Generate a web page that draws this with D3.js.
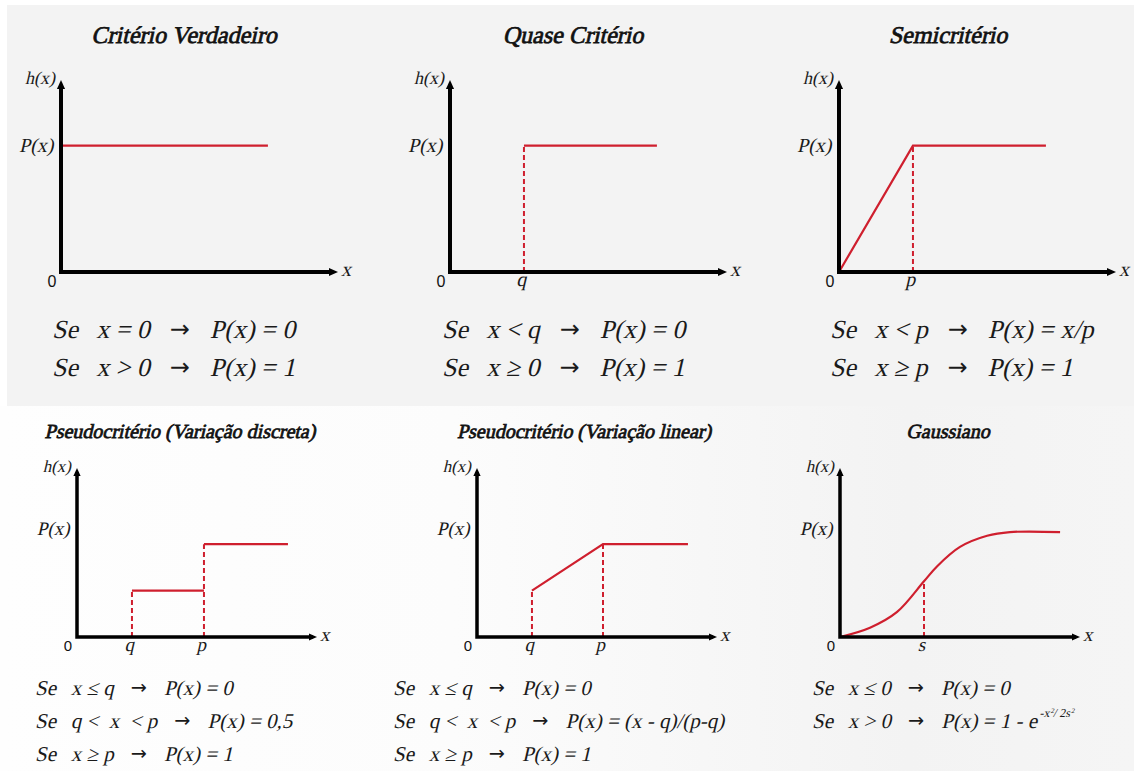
<!DOCTYPE html>
<html>
<head>
<meta charset="utf-8">
<script src="https://cdn.jsdelivr.net/npm/d3@7"></script>
</head>
<body style="margin:0">
<svg id="fig" width="1134" height="771"></svg>
<script>
// Data (x on a 0-10 axis, y where P(x) = 1 is the full level)
const titles = ['Critério Verdadeiro', 'Quase Critério', 'Semicritério',
    'Pseudocritério (Variação discreta)', 'Pseudocritério (Variação linear)', 'Gaussiano']

const curves = [
    [[[0, 1], [7.47, 1]]],
    [[[2.67, 1], [7.47, 1]]],
    [[[0, 0], [2.67, 1], [7.47, 1]]],
    [[[2.29, 0.5], [5.29, 0.5]], [[5.29, 1], [8.79, 1]]],
    [[[2.29, 0.5], [5.25, 1], [8.79, 1]]],
    [[[0, 0], [1.25, 0.1], [2.38, 0.27], [3.5, 0.6], [4.04, 0.76], [5, 0.97], [6.13, 1.09], [7.08, 1.13], [9.17, 1.13]]]
]
// dashed drop lines from the axis up to the curve
const drops = [[], [[2.67, 1]], [[2.67, 1]], [[2.29, 0.5], [5.29, 1]], [[2.29, 0.5], [5.25, 1]], [[3.5, 0.6]]]
const tickNames = [[], ['q'], ['p'], ['q', 'p'], ['q', 'p'], ['s']]

const conds = [
    ['x = 0', 'x > 0'],
    ['x < q', 'x ≥ 0'],
    ['x < p', 'x ≥ p'],
    ['x ≤ q', 'q <  x  < p', 'x ≥ p'],
    ['x ≤ q', 'q <  x  < p', 'x ≥ p'],
    ['x ≤ 0', 'x > 0']
]
const results = [
    ['P(x) = 0', 'P(x) = 1'],
    ['P(x) = 0', 'P(x) = 1'],
    ['P(x) = x/p', 'P(x) = 1'],
    ['P(x) = 0', 'P(x) = 0,5', 'P(x) = 1'],
    ['P(x) = 0', 'P(x) = (x - q)/(p-q)', 'P(x) = 1'],
    ['P(x) = 0', 'P(x) = 1 - e']
]

// Layout
const rows = [
    {ox: [61, 450, 839], y0: 272, y1: 80, len: 277, yMax: 1.52, pAt: 1, axW: 4, ah: 9,
     titleX: [184, 573, 948], titleY: 43, titleSize: 24,
     eqX: [52, 442, 830], eqY: [338, 376], eqSize: 26, gap: 20,
     lblSize: 20, hSize: 18, zeroSize: 16},
    {ox: [77, 477, 840], y0: 637, y1: 468, len: 240, yMax: 1.82, pAt: 1.16, axW: 3.5, ah: 8,
     titleX: [180, 584, 948], titleY: 438, titleSize: 20,
     eqX: [35, 393, 812], eqY: [695, 728, 761], eqSize: 21, gap: 17,
     lblSize: 19, hSize: 17, zeroSize: 15}
]
const red = '#cf1f2e'
const SERIF = '"Liberation Serif", Tinos, "Times New Roman"'
const SANS = '"Liberation Sans"'
const SLANT = -13

// serif text, slanted by hand around its anchor point
const it = (sel, size, x, y) => sel.attr('font-family', SERIF)
    .attr('font-size', size).attr('fill', '#1a1a1a')
    .attr('transform', `translate(${x},${y}) skewX(${SLANT})`)

const svg = d3.select('#fig')
const defs = svg.append('defs')
const grad = defs.append('linearGradient').attr('id', 'bg2')
grad.append('stop').attr('offset', '0%').attr('stop-color', '#fefefe')
grad.append('stop').attr('offset', '40%').attr('stop-color', '#fcfcfc')
grad.append('stop').attr('offset', '80%').attr('stop-color', '#f3f3f3')
grad.append('stop').attr('offset', '100%').attr('stop-color', '#f5f5f5')

svg.append('rect').attr('x', 7).attr('y', 5).attr('width', 1127).attr('height', 401).attr('fill', '#f3f3f3')
svg.append('rect').attr('x', 0).attr('y', 406).attr('width', 1134).attr('height', 365).attr('fill', 'url(#bg2)')

titles.forEach((title, i) => {
    const r = rows[Math.floor(i / 3)], c = i % 3
    const ox = r.ox[c]
    const x = d3.scaleLinear().domain([0, 10]).range([ox, ox + r.len])
    const y = d3.scaleLinear().domain([0, r.yMax]).range([r.y0, r.y1])
    const g = svg.append('g')

    /* Title (faux bold) */
    it(g.append('text'), r.titleSize, r.titleX[c], r.titleY)
        .attr('fill', '#111').attr('stroke', '#111').attr('stroke-width', 0.75)
        .attr('text-anchor', 'middle')
        .text(title)

    /* Dashed drops */
    g.selectAll('.drop').data(drops[i]).enter()
        .append('line')
        .attr('x1', d => x(d[0])).attr('x2', d => x(d[0]))
        .attr('y1', y(0)).attr('y2', d => y(d[1]))
        .attr('stroke', red).attr('stroke-width', 2)
        .attr('stroke-dasharray', '5,3')

    /* Curves */
    const line = d3.line().x(d => x(d[0])).y(d => y(d[1]))
        .curve(i === 5 ? d3.curveCatmullRom.alpha(0.5) : d3.curveLinear)
    g.selectAll('.curve').data(curves[i]).enter()
        .append('path')
        .attr('d', line)
        .attr('fill', 'none').attr('stroke', red).attr('stroke-width', 2.2)

    /* Axes with arrow heads */
    const tipX = x(10), tipY = y(r.yMax), a = r.ah
    g.append('path')
        .attr('d', `M${ox},${tipY + a - 2} L${ox},${r.y0} L${tipX - a + 2},${r.y0}`)
        .attr('fill', 'none').attr('stroke', '#000').attr('stroke-width', r.axW)
        .attr('stroke-linejoin', 'miter').attr('stroke-linecap', 'square')
    g.append('path').attr('d', `M${tipX},${r.y0} L${tipX - a},${r.y0 - a * 0.45} L${tipX - a},${r.y0 + a * 0.45} Z`)
    g.append('path').attr('d', `M${ox},${tipY} L${ox - a * 0.45},${tipY + a} L${ox + a * 0.45},${tipY + a} Z`)

    /* Tick labels q / p / s */
    if (drops[i].length) {
        const gx = g.append('g').attr('transform', `translate(0,${r.y0})`)
            .call(d3.axisBottom(x).tickValues(drops[i].map(d => d[0]))
                .tickFormat((d, k) => tickNames[i][k]).tickSize(0).tickPadding(0))
        gx.select('.domain').remove()
        gx.attr('font-family', SERIF).attr('font-size', r.lblSize)
        gx.selectAll('text').attr('y', 0).attr('dy', '0.72em')
        gx.selectAll('text').each(function () { it(d3.select(this), r.lblSize, 0, 0) })
    }

    /* Axis labels */
    it(g.append('text'), r.hSize, ox - 6, tipY + 4).attr('text-anchor', 'end').text('h(x)')
    it(g.append('text'), r.lblSize, ox - 6, y(r.pAt)).attr('dy', '0.32em').attr('text-anchor', 'end').text('P(x)')
    it(g.append('text'), r.lblSize, tipX + 3, r.y0 + 4).text('x')
    g.append('text').attr('font-family', SANS)
        .attr('font-size', r.zeroSize).attr('fill', '#111')
        .attr('x', ox - 9).attr('y', r.y0 + r.zeroSize - 1).attr('text-anchor', 'middle').text('0')

    /* Rules */
    conds[i].forEach((cond, k) => {
        const yy = r.eqY[k], x0 = r.eqX[c]
        const t = g.append('g')
        it(t.append('text'), r.eqSize, x0, yy).text('Se')
        const cx = x0 + r.eqSize * 1.7
        const ct = it(t.append('text'), r.eqSize, cx, yy).style('white-space', 'pre').text(cond)
        const cEnd = cx + ct.node().getComputedTextLength()
        const ar = t.append('text').attr('x', cEnd + r.gap).attr('y', yy - r.eqSize * 0.05)
            .attr('font-family', '"DejaVu Sans"')
            .attr('font-size', r.eqSize * 0.92).attr('fill', '#1a1a1a').text('→')
        const aEnd = cEnd + r.gap + ar.node().getComputedTextLength()
        const rt = it(t.append('text'), r.eqSize, aEnd + r.gap, yy).text(results[i][k])
        if (i === 5 && k === 1) {
            rt.append('tspan').attr('dy', -11).attr('font-size', 12).text('-x')
            rt.append('tspan').attr('dy', -4).attr('font-size', 7).text('2')
            rt.append('tspan').attr('dy', 4).attr('font-size', 12).text('/ 2s')
            rt.append('tspan').attr('dy', -4).attr('font-size', 7).text('2')
        }
    })
})
</script>
</body>
</html>
